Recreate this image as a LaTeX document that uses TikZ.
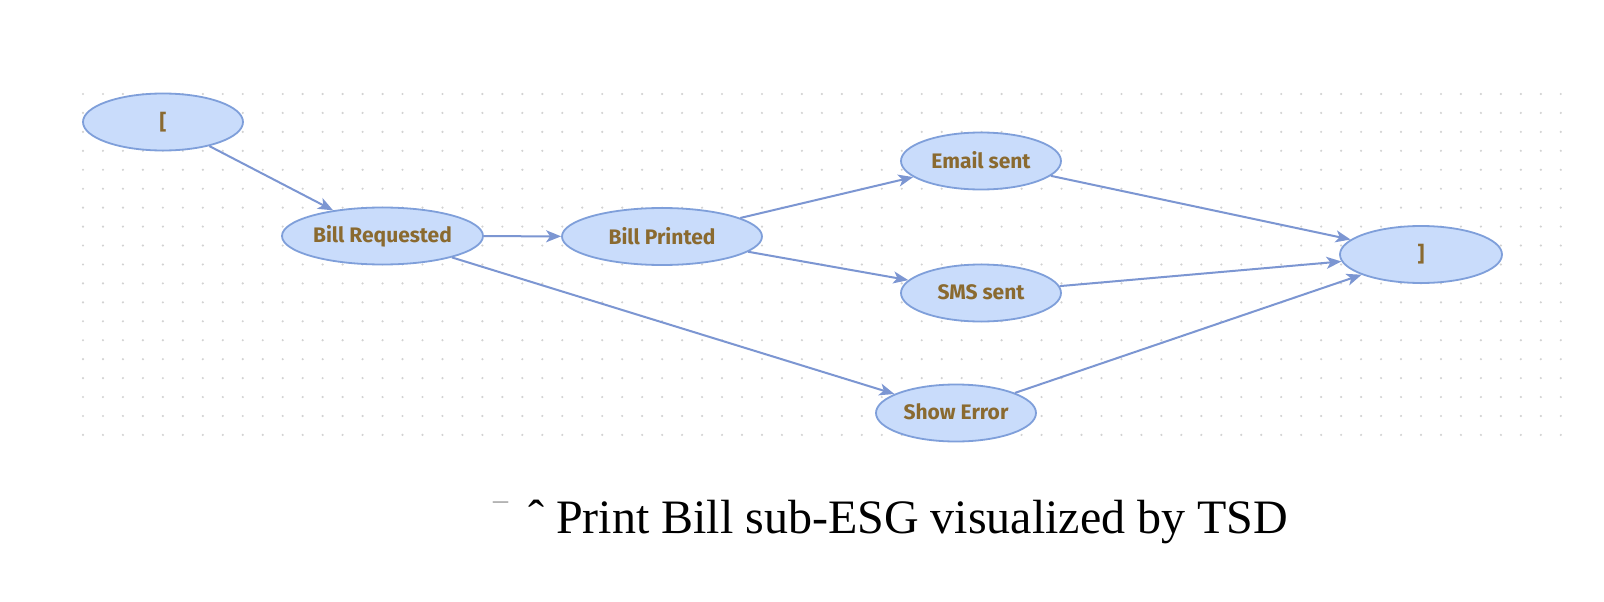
\documentclass[tikz,border=0pt]{standalone}
\usepackage{fontspec}
\setmainfont{Liberation Serif}
\newfontfamily\lblfont{Fira Sans}
\usetikzlibrary{shapes.geometric,arrows.meta}
\definecolor{gridgray}{HTML}{D2D2D2}
\definecolor{nodefill}{HTML}{C9DCFB}
\definecolor{nodeline}{HTML}{7F9FDA}
\definecolor{edgecol}{HTML}{7C96D2}
\definecolor{lblcol}{HTML}{8A6A30}
\tikzset{
  evnode/.style={ellipse, draw=nodeline, fill=nodefill, line width=1.8pt,
    inner sep=0pt, minimum height=57pt, font=\lblfont\bfseries\fontsize{21}{24}\selectfont, text=lblcol},
  evedge/.style={draw=edgecol, line width=2pt, -{Stealth[length=15pt,width=12pt,inset=4pt]}}
}
\begin{document}
\begin{tikzpicture}[x=1pt,y=-1pt]
\useasboundingbox (0,0) rectangle (1604,602);
\fill[white] (0,0) rectangle (1604,602);
\foreach \i in {0,...,74}{\foreach \j in {0,...,18}{\fill[gridgray] ({83+\i*19.97},{94+\j*18.94}) circle (1.2);}}
\node[evnode, minimum width=160pt] (start) at (163,122) {\makebox[0pt]{\raisebox{2pt}{[}}};
\node[evnode, minimum width=201pt] (req) at (382.5,236) {\makebox[0pt]{\raisebox{2pt}{Bill Requested}}};
\node[evnode, minimum width=200pt] (prt) at (662,236.5) {\makebox[0pt]{\raisebox{2pt}{Bill Printed}}};
\node[evnode, minimum width=160pt] (mail) at (981,161) {\makebox[0pt]{\raisebox{2pt}{Email sent}}};
\node[evnode, minimum width=160pt] (sms) at (981,293) {\makebox[0pt]{\raisebox{2pt}{SMS sent}}};
\node[evnode, minimum width=160pt] (err) at (956,413) {\makebox[0pt]{\raisebox{2pt}{Show Error}}};
\node[evnode, minimum width=162pt] (end) at (1421,254.5) {\makebox[0pt]{\raisebox{2pt}{]}}};
\draw[evedge] (start) -- (req);
\draw[evedge] (req) -- (prt);
\draw[evedge] (req) -- (err);
\draw[evedge] (prt) -- (mail);
\draw[evedge] (prt) -- (sms);
\draw[evedge] (mail) -- (end);
\draw[evedge] (sms) -- (end);
\draw[evedge] (err) -- (end);
\node[anchor=base west, inner sep=0pt, font=\fontsize{48}{56}\selectfont] (cap) at (493,533) {\textcolor{black!40}{\fontsize{30}{30}\selectfont\raisebox{9pt}{¯}}\hspace{8pt} ˆ Print Bill sub-ESG visualized by TSD};
\end{tikzpicture}
\end{document}
